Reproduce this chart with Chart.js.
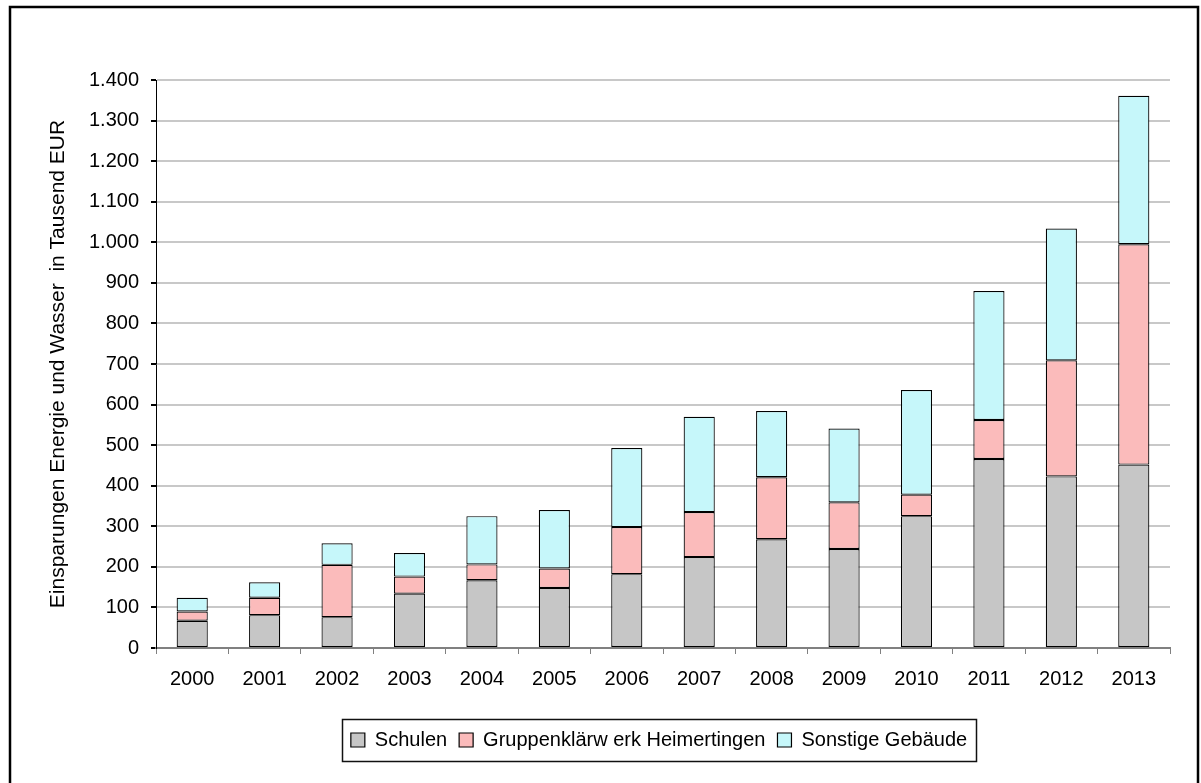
<!DOCTYPE html>
<html>
<head>
<meta charset="utf-8">
<script src="https://cdn.jsdelivr.net/npm/chart.js@4/dist/chart.umd.min.js"></script>
<style>
  html, body { margin: 0; padding: 0; background: #fff; }
  #wrap { position: relative; width: 1201px; height: 783px; }
</style>
</head>
<body>
<div id="wrap"><canvas id="c" width="1201" height="783"></canvas></div>
<script>
const years = ['2000','2001','2002','2003','2004','2005','2006','2007','2008','2009','2010','2011','2012','2013'];
const schulen = [67, 81, 76, 134, 167, 148, 182, 224, 268, 244, 325, 466, 423, 452];
const gruppenklaerwerk = [23, 43, 129, 42, 39, 48, 116, 111, 153, 115, 53, 96, 286, 543];
const sonstige = [34, 38, 53, 58, 119, 144, 195, 235, 163, 182, 258, 318, 325, 366];
const yTickLabels = ['0','100','200','300','400','500','600','700','800','900','1.000','1.100','1.200','1.300','1.400'];
const seriesNames = ['Schulen', 'Gruppenklärw erk Heimertingen', 'Sonstige Gebäude'];
const yTitle = 'Einsparungen Energie und Wasser  in Tausend EUR';

const FONT = "'Liberation Sans', Arial, sans-serif";

const framePlugin = {
  id: 'frame',
  afterUpdate(chart) {
    const lg = chart.legend;
    if (!lg || !lg.legendHitBoxes || !lg.legendHitBoxes.length) return;
    const hb = lg.legendHitBoxes;
    const minL = Math.min(...hb.map(h => h.left));
    const maxR = Math.max(...hb.map(h => h.left + h.width));
    const dx = 659 - (minL + maxR) / 2;
    const cy = hb[0].top + hb[0].height / 2;
    const dy = 740 - cy;
    lg.left += dx; lg.right += dx; lg.top += dy; lg.bottom += dy;
    hb.forEach(h => { h.left += dx; h.top += dy; });
  },
  beforeDraw(chart) {
    const ctx = chart.ctx;
    ctx.save();
    ctx.fillStyle = '#fff';
    ctx.fillRect(0, 0, chart.width, chart.height);
    ctx.restore();
  },
  afterDraw(chart) {
    const ctx = chart.ctx;
    ctx.save();
    ctx.strokeStyle = '#000';
    ctx.lineWidth = 2.5;
    ctx.beginPath();
    ctx.moveTo(10, 800);
    ctx.lineTo(10, 7);
    ctx.lineTo(1198, 7);
    ctx.lineTo(1198, 800);
    ctx.stroke();
    const lg = chart.legend;
    if (lg && lg.legendHitBoxes && lg.legendHitBoxes.length) {
      const hb = lg.legendHitBoxes;
      const minL = Math.min(...hb.map(h => h.left));
      const maxR = Math.max(...hb.map(h => h.left + h.width));
      ctx.lineWidth = 1.5;
      ctx.strokeStyle = '#111';
      ctx.strokeRect(Math.round(minL) - 8.5, 719.5, Math.round(maxR - minL) + 18, 42);
    }
    ctx.restore();
  }
};

const common = { borderColor: '#000', borderWidth: 1.2, borderSkipped: false, categoryPercentage: 1.0, barPercentage: 0.43 };

new Chart(document.getElementById('c'), {
  type: 'bar',
  data: {
    labels: years,
    datasets: [
      Object.assign({ label: seriesNames[0], data: schulen, backgroundColor: '#C6C6C6' }, common),
      Object.assign({ label: seriesNames[1], data: gruppenklaerwerk, backgroundColor: '#FBBBBB' }, common),
      Object.assign({ label: seriesNames[2], data: sonstige, backgroundColor: '#C6F7FA' }, common)
    ]
  },
  options: {
    responsive: false,
    animation: false,
    devicePixelRatio: 1,
    layout: { padding: { left: 30, right: 31, top: 80, bottom: 43 } },
    plugins: {
      legend: {
        position: 'bottom',
        labels: {
          font: { family: FONT, size: 20 },
          color: '#000',
          boxWidth: 14,
          boxHeight: 14,
          padding: 12
        }
      },
      tooltip: { enabled: false },
      title: { display: false }
    },
    scales: {
      x: {
        stacked: true,
        grid: { display: true, drawOnChartArea: false, drawTicks: true, tickLength: 6, color: '#808080', tickColor: '#808080', offset: true },
        border: { display: true, color: '#808080', width: 2 },
        ticks: { font: { family: FONT, size: 20 }, color: '#000', padding: 13, maxRotation: 0, autoSkip: false },
        afterFit(scale) { scale.height = 50; }
      },
      y: {
        stacked: true,
        min: 0,
        max: 1400,
        grid: { color: '#C8C8C8', lineWidth: 2, tickColor: '#000', tickLength: 5, drawTicks: true },
        border: { display: true, color: '#000', width: 1 },
        ticks: {
          stepSize: 100,
          font: { family: FONT, size: 20 },
          color: '#000',
          padding: 12,
          callback: function(v, i) { return yTickLabels[Math.round(v / 100)]; }
        },
        title: { display: true, text: yTitle, font: { family: FONT, size: 21 }, color: '#000', padding: { top: 16, bottom: 0 } },
        afterFit(scale) { scale.width = 126; }
      }
    }
  },
  plugins: [framePlugin]
});
</script>
</body>
</html>
